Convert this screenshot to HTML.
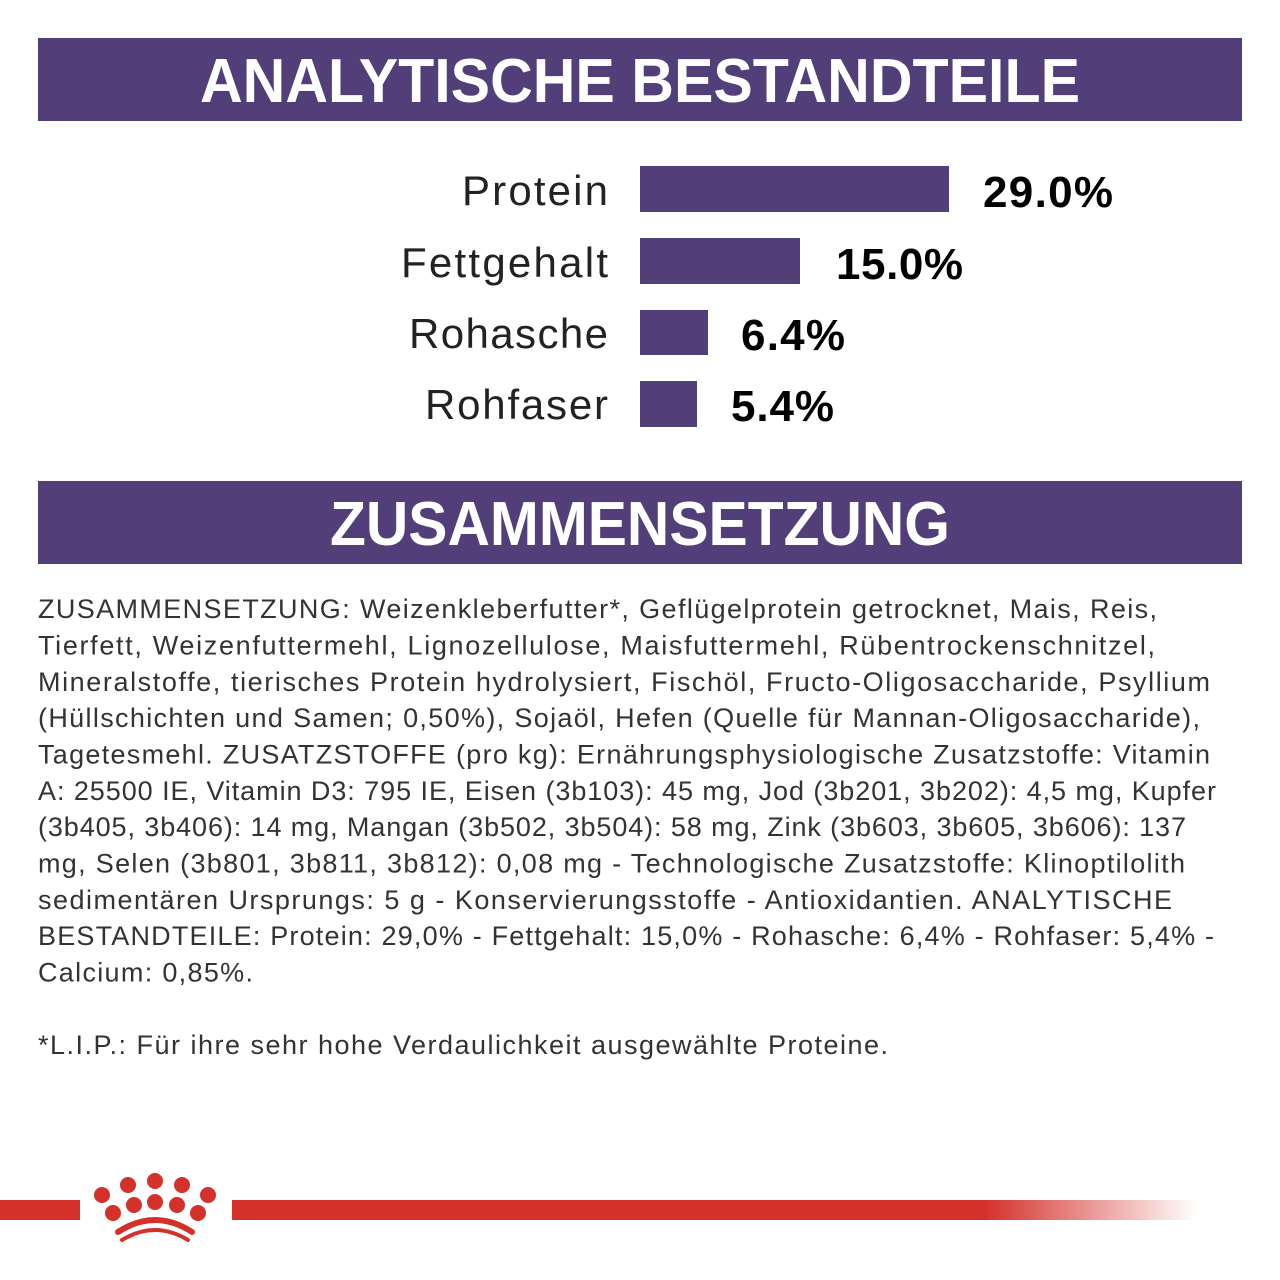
<!DOCTYPE html><html><head><style>body{margin:0;background:#fff}svg{display:block}</style></head><body>
<svg width="1280" height="1280" viewBox="0 0 1280 1280" xmlns="http://www.w3.org/2000/svg">
<defs><linearGradient id="g" x1="0" x2="1"><stop offset="0.78" stop-color="#d4312b"/><stop offset="1" stop-color="#d4312b" stop-opacity="0"/></linearGradient></defs>
<rect x="38" y="38" width="1204" height="83" fill="#523f79"/>
<text x="640" y="102" text-anchor="middle" font-family="Liberation Sans, sans-serif" font-weight="bold" font-size="62" fill="#fff" textLength="880" lengthAdjust="spacingAndGlyphs">ANALYTISCHE BESTANDTEILE</text>
<g font-family="Liberation Sans, sans-serif" font-size="42" fill="#222" lengthAdjust="spacingAndGlyphs">
<text x="462" y="205" textLength="146">Protein</text><text x="401" y="277" textLength="207">Fettgehalt</text><text x="409" y="348" textLength="199">Rohasche</text><text x="425" y="419" textLength="183">Rohfaser</text></g>
<g fill="#523f79"><rect x="640" y="166" width="309" height="46"/><rect x="640" y="238" width="160" height="46"/><rect x="640" y="310" width="68" height="45"/><rect x="640" y="381" width="57" height="46"/></g>
<g font-family="Liberation Sans, sans-serif" font-size="44" font-weight="bold" fill="#000" lengthAdjust="spacingAndGlyphs">
<text x="983" y="207" textLength="130">29.0%</text><text x="836" y="279" textLength="127">15.0%</text><text x="741" y="350" textLength="104">6.4%</text><text x="731" y="421" textLength="103">5.4%</text></g>
<rect x="38" y="481" width="1204" height="83" fill="#523f79"/>
<text x="640" y="545" text-anchor="middle" font-family="Liberation Sans, sans-serif" font-weight="bold" font-size="62" fill="#fff" textLength="620" lengthAdjust="spacingAndGlyphs">ZUSAMMENSETZUNG</text>
<g font-family="Liberation Sans, sans-serif" font-size="27" fill="#333" lengthAdjust="spacingAndGlyphs">
<text x="38" y="618" textLength="1119">ZUSAMMENSETZUNG: Weizenkleberfutter*, Geflügelprotein getrocknet, Mais, Reis,</text>
<text x="38" y="654.5" textLength="1117">Tierfett, Weizenfuttermehl, Lignozellulose, Maisfuttermehl, Rübentrockenschnitzel,</text>
<text x="38" y="691" textLength="1172">Mineralstoffe, tierisches Protein hydrolysiert, Fischöl, Fructo-Oligosaccharide, Psyllium</text>
<text x="38" y="727" textLength="1162">(Hüllschichten und Samen; 0,50%), Sojaöl, Hefen (Quelle für Mannan-Oligosaccharide),</text>
<text x="38" y="763.5" textLength="1172">Tagetesmehl. ZUSATZSTOFFE (pro kg): Ernährungsphysiologische Zusatzstoffe: Vitamin</text>
<text x="38" y="800" textLength="1178">A: 25500 IE, Vitamin D3: 795 IE, Eisen (3b103): 45 mg, Jod (3b201, 3b202): 4,5 mg, Kupfer</text>
<text x="38" y="836" textLength="1148">(3b405, 3b406): 14 mg, Mangan (3b502, 3b504): 58 mg, Zink (3b603, 3b605, 3b606): 137</text>
<text x="38" y="872.5" textLength="1147">mg, Selen (3b801, 3b811, 3b812): 0,08 mg - Technologische Zusatzstoffe: Klinoptilolith</text>
<text x="38" y="909" textLength="1134">sedimentären Ursprungs: 5 g - Konservierungsstoffe - Antioxidantien. ANALYTISCHE</text>
<text x="38" y="945" textLength="1176">BESTANDTEILE: Protein: 29,0% - Fettgehalt: 15,0% - Rohasche: 6,4% - Rohfaser: 5,4% -</text>
<text x="38" y="981.5" textLength="215">Calcium: 0,85%.</text>
<text x="38" y="1054" textLength="850">*L.I.P.: Für ihre sehr hohe Verdaulichkeit ausgewählte Proteine.</text>
</g>
<rect x="0" y="1200" width="80" height="20" fill="#d4312b"/>
<rect x="232" y="1200" width="965" height="20" fill="url(#g)"/>
<g fill="#d4312b">
<circle cx="102" cy="1195" r="8"/><circle cx="128" cy="1185" r="8"/><circle cx="155" cy="1181" r="8"/><circle cx="182" cy="1185" r="8"/><circle cx="208" cy="1195" r="8"/>
<circle cx="113" cy="1213" r="8"/><circle cx="134" cy="1205" r="8"/><circle cx="155" cy="1202" r="8"/><circle cx="177" cy="1205" r="8"/><circle cx="198" cy="1213" r="8"/>
</g>
<path d="M118 1232 Q155 1208 192 1232" stroke="#d4312b" stroke-width="6" fill="none" stroke-linecap="round"/>
<path d="M122 1240 Q155 1220 188 1240" stroke="#d4312b" stroke-width="4" fill="none" stroke-linecap="round"/>
</svg></body></html>
